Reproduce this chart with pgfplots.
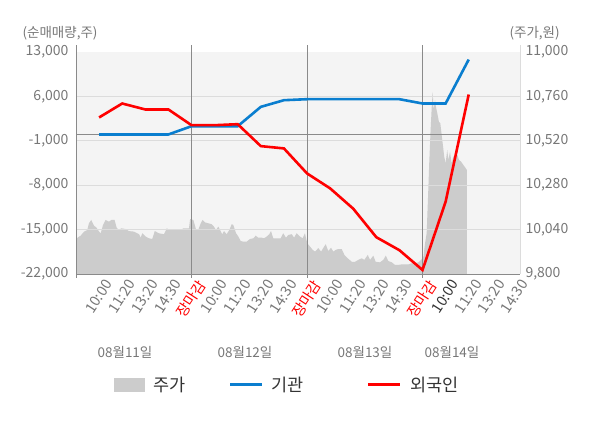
\documentclass[border=0pt]{standalone}
\usepackage{fontspec}
\setmainfont{Noto Sans CJK KR}
\usepackage{pgfplots}
\pgfplotsset{compat=1.18}
\definecolor{bgc}{HTML}{F4F4F4}
\definecolor{areac}{HTML}{CCCCCC}
\definecolor{gridc}{HTML}{DCDCDC}
\definecolor{axc}{HTML}{8A8A8A}
\definecolor{txt}{HTML}{777777}
\definecolor{dtxt}{HTML}{333333}
\definecolor{blu}{HTML}{0A7ECF}
\definecolor{rd}{HTML}{FF0000}
\begin{document}
\begin{tikzpicture}[x=1pt,y=1pt]
\path (0,0) rectangle (600,428);
\pgfplotsset{common/.style={scale only axis, width=444pt, height=222pt, at={(76pt,154pt)}, anchor=south west, xmin=0, xmax=19.22,
  scaled ticks=false,
  /pgf/number format/assume math mode=true, /pgf/number format/1000 sep={,},
  tick label style={font=\fontsize{14}{15}\selectfont, text=txt}}}
% price axis (right)
\begin{axis}[common, ymin=9800, ymax=11000, axis background/.style={fill=bgc},
  axis x line=none, axis y line*=right, y axis line style={draw=none},
  ytick={9800,10040,10280,10520,10760,11000}, major tick length=0pt,
  yticklabel style={xshift=2pt}]
\addplot[fill=areac, draw=none] coordinates {
(0,9800)
(0,9975)(0.06,9996)(0.2,10007)(0.35,10029)(0.49,10038)(0.56,10074)(0.66,10092)(0.78,10061)(0.89,10050)(1.0,10029)(1.07,10020)(1.17,10065)(1.28,10092)(1.43,10083)(1.53,10092)(1.67,10092)(1.76,10050)(1.86,10038)(1.96,10047)(2.15,10043)(2.29,10032)(2.51,10029)(2.73,10015)(2.8,9996)(2.87,10020)(3.02,10002)(3.16,9993)(3.3,9989)(3.41,10032)(3.59,10020)(3.81,10015)(3.93,10047)(4.03,10038)(4.24,10038)(4.53,10038)(4.65,10047)(4.89,10047)
(4.94,10097)(5.08,10092)(5.19,10043)(5.29,10038)(5.4,10074)(5.48,10092)(5.58,10079)(5.73,10074)(5.87,10069)(5.97,10056)(6.06,10038)(6.16,10056)(6.26,10032)(6.33,10015)(6.41,10032)(6.52,10015)(6.64,10038)(6.74,10069)(6.81,10065)(6.93,10020)(7.03,10002)(7.13,9978)(7.24,9975)(7.39,9975)(7.53,9989)(7.68,9993)(7.78,10007)(7.89,9996)(8.04,9996)(8.14,9993)(8.25,10002)(8.37,10015)(8.44,10032)(8.54,9993)(8.76,9993)(8.86,9993)(8.97,10020)(9.09,9996)(9.19,10011)(9.34,10015)(9.44,9996)(9.55,10020)(9.7,10002)(9.81,9993)(9.91,10020)
(10.01,9966)(10.13,9948)(10.25,9930)(10.35,9921)(10.49,9940)(10.61,9921)(10.71,9942)(10.81,9961)(10.92,9924)(11.04,9942)(11.14,9921)(11.24,9930)(11.36,9935)(11.5,9935)(11.62,9903)(11.76,9885)(11.94,9866)(12.08,9866)(12.22,9876)(12.37,9885)(12.48,9876)(12.63,9903)(12.73,9876)(12.87,9899)(12.97,9866)(13.16,9863)(13.3,9876)(13.41,9899)(13.52,9870)(13.67,9863)(13.81,9849)(13.95,9849)(14.1,9852)(14.39,9852)(14.53,9858)(14.68,9858)(14.82,9863)(14.94,9876)
(15.04,9894)(15.11,9966)(15.18,10020)(15.25,10254)(15.29,10398)(15.35,10578)(15.4,10704)(15.44,10785)(15.48,10686)(15.54,10740)(15.58,10704)(15.64,10669)(15.71,10623)(15.77,10615)(15.83,10551)(15.89,10488)(15.94,10434)(16.0,10398)(16.07,10470)(16.12,10416)(16.19,10461)(16.26,10398)(16.33,10434)(16.41,10438)(16.51,10443)(16.58,10416)(16.67,10407)(16.77,10389)(16.84,10377)(16.92,10362)(16.92,9800)
} \closedcycle;
\end{axis}
% volume axis (left)
\begin{axis}[common, ymin=-22000, ymax=13000, clip mode=individual,
  axis x line*=bottom, axis y line*=left,
  x axis line style={draw=axc, line width=0.8pt, -}, y axis line style={draw=none},
  ytick={-22000,-15000,-8000,-1000,6000,13000},
  xtick={1,...,19},
  xticklabels={10:00,11:20,13:20,14:30,{\textcolor{rd}{장마감}},10:00,11:20,13:20,14:30,{\textcolor{rd}{장마감}},10:00,11:20,13:20,14:30,{\textcolor{rd}{장마감}},{\textcolor{dtxt}{10:00}},11:20,13:20,14:30},
  xticklabel style={rotate=57, anchor=north east, yshift=-3pt, xshift=2.5pt, font=\fontsize{14.5}{15}\selectfont},
  major tick length=0pt,
  yticklabel style={xshift=-4pt},
  extra x ticks={0,5,10,15}, extra x tick labels={},
  extra x tick style={major tick length=4pt, tick align=outside, tick style={axc, line width=0.8pt}}]
\foreach \g in {-15000,-8000,-1000,6000}{
  \edef\tmp{\noexpand\draw[gridc, line width=0.9pt] (axis cs:0,\g) -- (axis cs:19.22,\g);}\tmp
}
\draw[gridc, line width=0.9pt] (axis cs:19.22,-22000) -- ([yshift=7pt]axis cs:19.22,13000);
\foreach \v in {0,5,10,15}{
  \edef\tmp{\noexpand\draw[axc, line width=0.8pt] (axis cs:\v,-22000) -- ([yshift=7pt]axis cs:\v,13000);}\tmp
}
\draw[axc, line width=0.8pt] (axis cs:0,0) -- (axis cs:19.22,0);
\addplot[blu, line width=2.6pt] coordinates {(1,0)(2,0)(3,0)(4,0)(5,1300)(6,1300)(7,1300)(8,4350)(9,5400)(10,5560)(11,5560)(12,5560)(13,5560)(14,5560)(15,4880)(16,4880)(17,11810)};
\addplot[rd, line width=2.6pt] coordinates {(1,2680)(2,4880)(3,3940)(4,3940)(5,1460)(6,1460)(7,1620)(8,-1840)(9,-2200)(10,-6140)(11,-8500)(12,-11700)(13,-16200)(14,-18250)(15,-21370)(16,-10610)(17,6300)};
\end{axis}
% unit labels
\node[txt, anchor=west, font=\fontsize{13.5}{14}\selectfont] at (19,395) {(순매매량,주)};
\node[txt, anchor=west, font=\fontsize{13.5}{14}\selectfont] at (506,395) {(주가,원)};
% day labels
\foreach \xx/\dd in {125/08월11일,245/08월12일,365/08월13일,452/08월14일}{
  \node[txt, font=\fontsize{13.5}{14}\selectfont] at (\xx,76) {\dd};
}
% legend
\fill[areac] (114,36) rectangle (145,50);
\node[dtxt, anchor=west, font=\fontsize{17.5}{18}\selectfont] at (150,43) {주가};
\draw[blu, line width=3pt] (230,43) -- (262,43);
\node[dtxt, anchor=west, font=\fontsize{17.5}{18}\selectfont] at (268,43) {기관};
\draw[rd, line width=3pt] (368,43) -- (400,43);
\node[dtxt, anchor=west, font=\fontsize{17.5}{18}\selectfont] at (407,43) {외국인};
\end{tikzpicture}
\end{document}
